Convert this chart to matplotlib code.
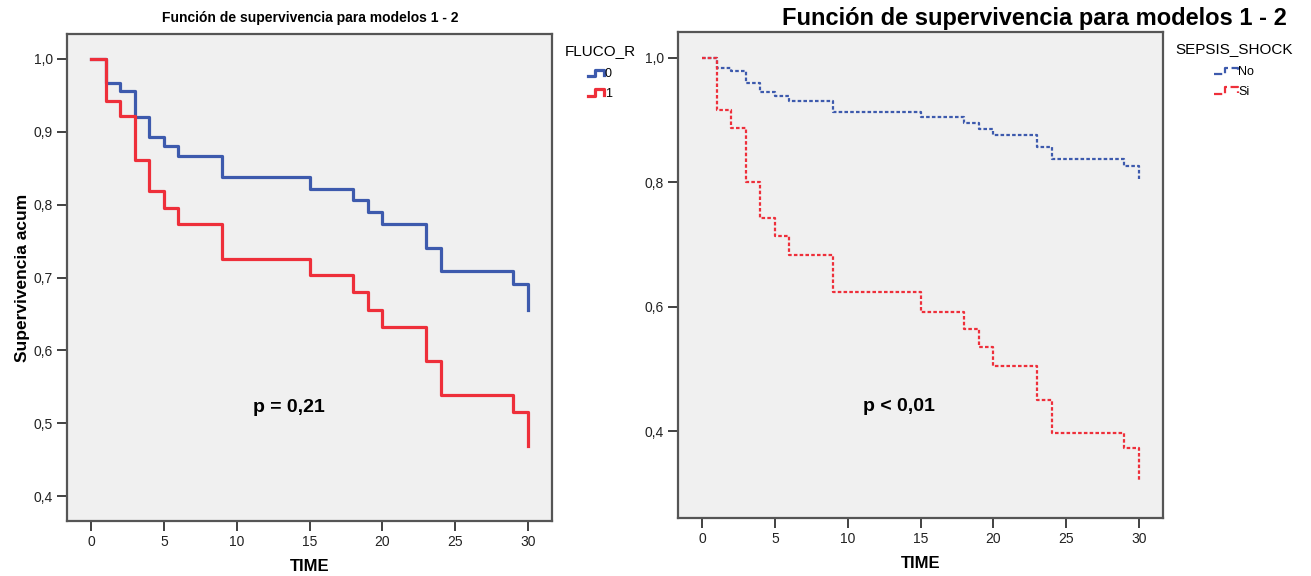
import matplotlib
matplotlib.use("Agg")
import matplotlib.pyplot as plt
from matplotlib.lines import Line2D
from matplotlib.legend_handler import HandlerBase
from matplotlib.ticker import FuncFormatter, MultipleLocator

plt.rcParams['font.family'] = ['Liberation Sans', 'DejaVu Sans']

# time points where the Kaplan-Meier curves step
times = [0, 1, 2, 3, 4, 5, 6, 9, 15, 18, 19, 20, 23, 24, 29, 30]

# FLUCO_R (left panel)
fluco_0 = [1.0, 0.967, 0.956, 0.920, 0.893, 0.880, 0.866, 0.838, 0.821, 0.806,
           0.790, 0.774, 0.741, 0.709, 0.691, 0.655]
fluco_1 = [1.0, 0.942, 0.922, 0.861, 0.818, 0.796, 0.774, 0.726, 0.703, 0.680,
           0.655, 0.632, 0.586, 0.539, 0.516, 0.469]

# SEPSIS_SHOCK (right panel)
sepsis_no = [1.0, 0.984, 0.978, 0.959, 0.945, 0.938, 0.930, 0.913, 0.904, 0.895,
             0.886, 0.876, 0.857, 0.837, 0.826, 0.805]
sepsis_si = [1.0, 0.916, 0.887, 0.801, 0.742, 0.713, 0.683, 0.623, 0.592, 0.564,
             0.535, 0.505, 0.451, 0.398, 0.373, 0.322]

title = "Función de supervivencia para modelos 1 - 2"
blue = "#3d5aad"
red = "#ee2f3a"
dotted = (0, (1.6, 1.0))


class StepHandler(HandlerBase):
    # small step-shaped legend icon, like SPSS draws
    def create_artists(self, legend, orig_handle, xdescent, ydescent,
                       width, height, fontsize, trans):
        xs = [0, 0.45 * width, 0.45 * width, width, width]
        ys = [0.15 * height, 0.15 * height, 0.85 * height, 0.85 * height, 0.25 * height]
        xs = [x - xdescent for x in xs]
        ys = [y - ydescent for y in ys]
        line = Line2D(xs, ys, color=orig_handle.get_color(),
                      lw=orig_handle.get_linewidth(),
                      ls=orig_handle.get_linestyle())
        line.set_transform(trans)
        return [line]


comma = FuncFormatter(lambda v, pos: f"{v:.1f}".replace('.', ','))

fig = plt.figure(figsize=(13.11, 5.76), dpi=100)
ax1 = fig.add_axes([67 / 1311, 1 - 521 / 576, 485 / 1311, 487 / 576])
ax2 = fig.add_axes([678 / 1311, 1 - 518 / 576, 485 / 1311, 486 / 576])

for ax in (ax1, ax2):
    ax.set_facecolor("#f0f0f0")
    for sp in ax.spines.values():
        sp.set_color("#555555")
        sp.set_linewidth(1.6)
    ax.tick_params(direction='out', length=7, width=1.3, color="#333333",
                   labelsize=10, labelcolor="#222222", pad=3)
    ax.set_xlim(-1.65, 31.65)
    ax.xaxis.set_major_locator(MultipleLocator(5))
    ax.yaxis.set_major_formatter(comma)
    ax.set_xlabel("TIME", fontsize=12, fontweight='bold', labelpad=7)

legend_kw = dict(loc='upper left', bbox_to_anchor=(1.005, 1.0), frameon=False,
                 fontsize=9, title_fontsize=11, handletextpad=0.05,
                 labelspacing=0.6, borderpad=0.3,
                 handler_map={Line2D: StepHandler()})

# left panel
l0, = ax1.step(times, fluco_0, where='post', color=blue, lw=2.3, label="0")
l1, = ax1.step(times, fluco_1, where='post', color=red, lw=2.3, label="1")
ax1.set_ylim(0.366, 1.034)
ax1.yaxis.set_major_locator(MultipleLocator(0.1))
ax1.set_ylabel("Supervivencia acum", fontsize=12.5, fontweight='bold', labelpad=3)
fig.text(310 / 1311, 1 - 18 / 576, title, ha='center', va='center',
         fontsize=10, fontweight='bold')
ax1.text(13.6, 0.522, "p = 0,21", ha='center', va='center', fontsize=14, fontweight='bold')
leg1 = ax1.legend(handles=[l0, l1], title="FLUCO_R", handlelength=1.3, **legend_kw)
leg1._legend_box.align = "center"
leg1._legend_box.sep = 7.5

# right panel
s0, = ax2.step(times, sepsis_no, where='post', color=blue, lw=1.6, ls=dotted, label="No")
s1, = ax2.step(times, sepsis_si, where='post', color=red, lw=1.6, ls=dotted, label="Si")
ax2.set_ylim(0.261, 1.041)
ax2.yaxis.set_major_locator(MultipleLocator(0.2))
fig.text(1034 / 1311, 1 - 18 / 576, title, ha='center', va='center',
         fontsize=17, fontweight='bold')
ax2.text(13.5, 0.44, "p < 0,01", ha='center', va='center', fontsize=14, fontweight='bold')
leg2 = ax2.legend(handles=[s0, s1], title="SEPSIS_SHOCK", handlelength=1.9, **legend_kw)
leg2._legend_box.align = "center"
leg2._legend_box.sep = 7.5

fig.savefig("out.png", dpi=100)
